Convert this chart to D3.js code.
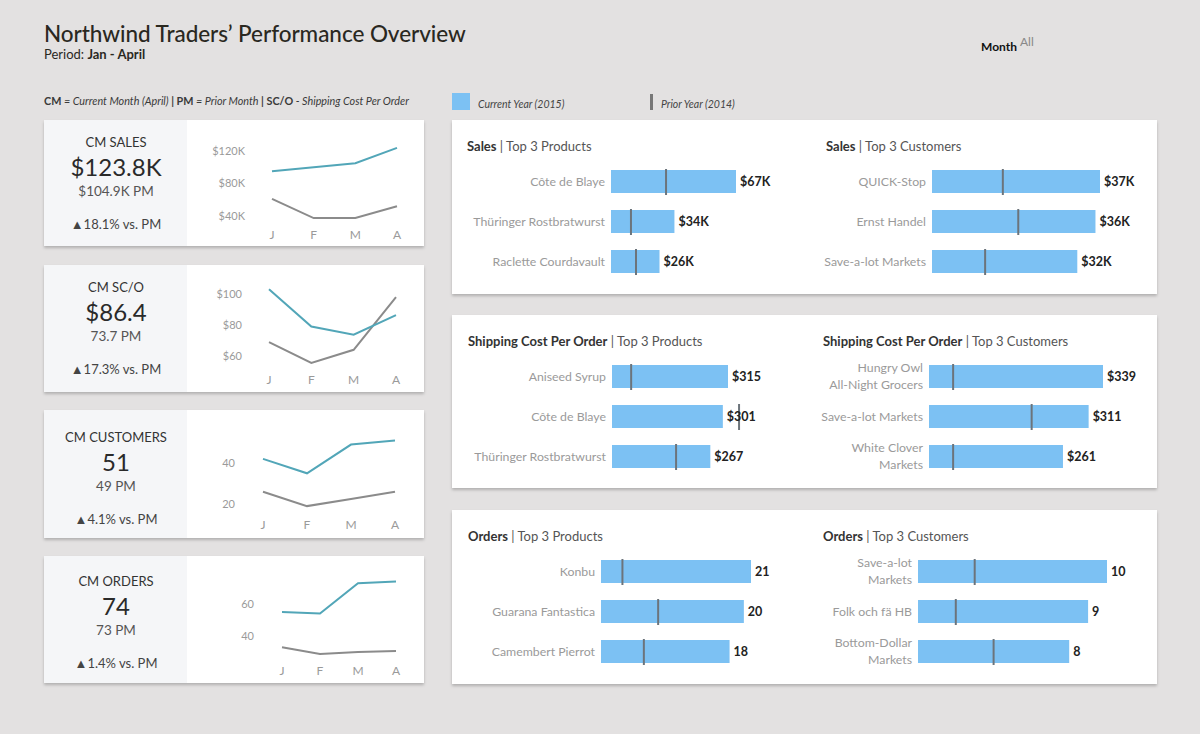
<!DOCTYPE html>
<html><head><meta charset="utf-8">
<script src="https://cdn.jsdelivr.net/npm/d3@7"></script>
<style>
body{margin:0;background:#e3e1e1;}
svg{display:block;font-family:Lato,"Noto Sans",sans-serif;}
</style></head><body>
<svg id="chart" width="1200" height="734"></svg>
<script>
// ---------- DATA ----------
const months = ["J", "F", "M", "A"];

const kpiTitles = ["CM SALES", "CM SC/O", "CM CUSTOMERS", "CM ORDERS"];
const kpiValues = ["$123.8K", "$86.4", "51", "74"];
const kpiPM = ["$104.9K PM", "73.7 PM", "49 PM", "73 PM"];
const kpiDelta = ["▲18.1% vs. PM", "▲17.3% vs. PM", "▲4.1% vs. PM", "▲1.4% vs. PM"];

const salesCur = [95, 100, 104.9, 123.8];
const salesPrior = [61, 37.5, 37.5, 52];
const salesTicks = [40, 80, 120];
const scoCur = [103, 79, 73.7, 86.4];
const scoPrior = [69, 55.5, 64, 98];
const scoTicks = [60, 80, 100];
const custCur = [42, 35, 49, 51];
const custPrior = [26, 19, 22.5, 26];
const custTicks = [20, 40];
const ordCur = [55, 54, 73, 74];
const ordPrior = [33, 28.7, 30, 30.6];
const ordTicks = [40, 60];

const salesProdNames = ["Côte de Blaye", "Thüringer Rostbratwurst", "Raclette Courdavault"];
const salesProdCur = [67, 34, 26];
const salesProdPrior = [29.5, 10.7, 13.4];
const salesCustNames = ["QUICK-Stop", "Ernst Handel", "Save-a-lot Markets"];
const salesCustCur = [37, 36, 32];
const salesCustPrior = [15.6, 19, 11.7];

const scoProdNames = ["Aniseed Syrup", "Côte de Blaye", "Thüringer Rostbratwurst"];
const scoProdCur = [315, 301, 267];
const scoProdPrior = [52, 345, 174];
const scoCustNames = ["Hungry Owl\nAll-Night Grocers", "Save-a-lot Markets", "White Clover\nMarkets"];
const scoCustCur = [339, 311, 261];
const scoCustPrior = [47, 200, 47];

const ordProdNames = ["Konbu", "Guarana Fantastica", "Camembert Pierrot"];
const ordProdCur = [21, 20, 18];
const ordProdPrior = [3, 8, 6];
const ordCustNames = ["Save-a-lot\nMarkets", "Folk och fä HB", "Bottom-Dollar\nMarkets"];
const ordCustCur = [10, 9, 8];
const ordCustPrior = [3, 2, 4];

// ---------- STYLE ----------
const C = {cur: "#52a6b8", prior: "#8b8b8b", bar: "#7cc1f3", ref: "#6c747b",
  light: "#9a9a9a", panel: "#ffffff", kpiLeft: "#f5f6f8"};

const svg = d3.select("#chart");
const defs = svg.append("defs");
const f = defs.append("filter").attr("id", "sh").attr("x", "-5%").attr("y", "-10%").attr("width", "110%").attr("height", "130%");
f.append("feDropShadow").attr("dx", 0).attr("dy", 2).attr("stdDeviation", 1.8).attr("flood-color", "#000").attr("flood-opacity", 0.22);

// ---------- HEADER ----------
svg.append("text").attr("x", 44).attr("y", 42).attr("font-size", 22.5).attr("fill", "#2a281f")
  .attr("font-weight", 500).attr("letter-spacing", -0.05).text("Northwind Traders’ Performance Overview");
const per = svg.append("text").attr("x", 44).attr("y", 59).attr("font-size", 13).attr("fill", "#2a281f");
per.append("tspan").text("Period: ");
per.append("tspan").attr("font-weight", 700).text("Jan - April");

svg.append("text").attr("x", 981).attr("y", 51).attr("font-size", 12).attr("font-weight", 700)
  .attr("fill", "#111").text("Month");
svg.append("text").attr("x", 1020).attr("y", 46).attr("font-size", 12).attr("fill", "#888").text("All");

const leg = svg.append("text").attr("x", 44).attr("y", 105).attr("font-size", 10.8).attr("fill", "#3a3a3a");
[["CM", 1], [" = Current Month (April) ", 0], ["| ", 1], [" PM", 1], [" = Prior Month  ", 0], [" |  ", 1], ["SC/O", 1], [" - Shipping Cost Per Order", 0]]
  .forEach(([t, b]) => leg.append("tspan").attr("font-weight", b ? 700 : 400).attr("font-style", b ? "normal" : "italic").text(t));

svg.append("rect").attr("x", 452).attr("y", 93).attr("width", 18).attr("height", 17).attr("fill", C.bar);
svg.append("text").attr("x", 478).attr("y", 108).attr("font-size", 10.5).attr("font-style", "italic").attr("fill", "#444").text("Current Year (2015)");
svg.append("rect").attr("x", 650).attr("y", 94).attr("width", 3).attr("height", 16).attr("fill", "#777");
svg.append("text").attr("x", 661).attr("y", 108).attr("font-size", 10.5).attr("font-style", "italic").attr("fill", "#444").text("Prior Year (2014)");

// ---------- KPI CARDS ----------
const kpiCur = [salesCur, scoCur, custCur, ordCur];
const kpiPrior = [salesPrior, scoPrior, custPrior, ordPrior];
const kpiTicks = [salesTicks, scoTicks, custTicks, ordTicks];
const kpiTickFmt = [d => "$" + d + "K", d => "$" + d, d => d, d => d];
const kpiLayout = [
  {top: 120, h: 126, x0: 272, x1: 397, yDom: [35.1, 133.5], tickX: 245, shift: 0},
  {top: 265, h: 127, x0: 269, x1: 396, yDom: [54.2, 105.8], tickX: 242, shift: 0},
  {top: 410, h: 128, x0: 263, x1: 395, yDom: [17.1, 56.1], tickX: 235, shift: 5},
  {top: 556, h: 127, x0: 282, x1: 396, yDom: [27.5, 77.5], tickX: 254, shift: 3}
];

kpiLayout.forEach((L, i) => {
  const g = svg.append("g");
  g.append("rect").attr("x", 44).attr("y", L.top).attr("width", 380).attr("height", L.h)
    .attr("fill", C.panel).attr("filter", "url(#sh)");
  g.append("rect").attr("x", 44).attr("y", L.top).attr("width", 143).attr("height", L.h).attr("fill", C.kpiLeft);
  const cx = 116, s = L.shift;
  g.append("text").attr("x", cx).attr("y", L.top + 22 + s).attr("dy", "0.35em").attr("text-anchor", "middle")
    .attr("font-size", 13).attr("fill", "#333").text(kpiTitles[i]);
  g.append("text").attr("x", cx).attr("y", L.top + 48 + s).attr("dy", "0.35em").attr("text-anchor", "middle")
    .attr("font-size", 24).attr("fill", "#2a2a2a").text(kpiValues[i]);
  g.append("text").attr("x", cx).attr("y", L.top + 71 + s).attr("dy", "0.35em").attr("text-anchor", "middle")
    .attr("font-size", 13.5).attr("fill", "#555").text(kpiPM[i]);
  g.append("text").attr("x", cx).attr("y", L.top + 104 + s).attr("dy", "0.35em").attr("text-anchor", "middle")
    .attr("font-size", 13).attr("fill", "#444").text(kpiDelta[i]);

  const x = d3.scalePoint().domain(months).range([L.x0, L.x1]);
  const y = d3.scaleLinear().domain(L.yDom).range([L.top + 100, L.top + 20]);
  g.selectAll(".yt").data(kpiTicks[i]).enter().append("text")
    .attr("x", L.tickX).attr("y", d => y(d)).attr("dy", "0.35em").attr("text-anchor", "end")
    .attr("font-size", 11).attr("fill", C.light).text(kpiTickFmt[i]);
  g.selectAll(".xt").data(months).enter().append("text")
    .attr("x", d => x(d)).attr("y", L.top + 115).attr("dy", "0.35em").attr("text-anchor", "middle")
    .attr("font-size", 12).attr("fill", C.light).text(d => d);
  const line = d3.line().x((d, j) => x(months[j])).y(d => y(d));
  g.append("path").datum(kpiPrior[i]).attr("d", line).attr("fill", "none").attr("stroke", C.prior).attr("stroke-width", 2);
  g.append("path").datum(kpiCur[i]).attr("d", line).attr("fill", "none").attr("stroke", C.cur).attr("stroke-width", 2);
});

// ---------- BULLET PANELS ----------
const panels = [{top: 120, h: 174}, {top: 315, h: 173}, {top: 510, h: 174}];
panels.forEach(p => {
  svg.append("rect").attr("x", 452).attr("y", p.top).attr("width", 705).attr("height", p.h)
    .attr("fill", C.panel).attr("filter", "url(#sh)");
});

const fmtK = d => "$" + d + "K", fmtD = d => "$" + d, fmtN = d => "" + d;
const subCharts = [
  {p: 0, tx: 467, tb: "Sales", tr: " | Top 3 Products", names: salesProdNames, cur: salesProdCur, prior: salesProdPrior, fmt: fmtK, bx: 611, len: 125},
  {p: 0, tx: 826, tb: "Sales", tr: " | Top 3 Customers", names: salesCustNames, cur: salesCustCur, prior: salesCustPrior, fmt: fmtK, bx: 932, len: 168},
  {p: 1, tx: 468, tb: "Shipping Cost Per Order", tr: " | Top 3 Products", names: scoProdNames, cur: scoProdCur, prior: scoProdPrior, fmt: fmtD, bx: 612, len: 116},
  {p: 1, tx: 823, tb: "Shipping Cost Per Order", tr: " | Top 3 Customers", names: scoCustNames, cur: scoCustCur, prior: scoCustPrior, fmt: fmtD, bx: 929, len: 174},
  {p: 2, tx: 468, tb: "Orders", tr: " | Top 3 Products", names: ordProdNames, cur: ordProdCur, prior: ordProdPrior, fmt: fmtN, bx: 601, len: 150},
  {p: 2, tx: 823, tb: "Orders", tr: " | Top 3 Customers", names: ordCustNames, cur: ordCustCur, prior: ordCustPrior, fmt: fmtN, bx: 918, len: 189}
];

subCharts.forEach(S => {
  const top = panels[S.p].top;
  const g = svg.append("g");
  const t = g.append("text").attr("x", S.tx).attr("y", top + 26).attr("dy", "0.35em").attr("font-size", 13).attr("fill", "#333");
  t.append("tspan").attr("font-weight", 700).text(S.tb);
  t.append("tspan").attr("fill", "#555").text(S.tr);

  const rows = S.names.map((n, i) => ({name: n, cur: S.cur[i], prior: S.prior[i]}));
  const y = d3.scaleBand().domain(S.names).range([top + 50, top + 153]).paddingInner(0.425).paddingOuter(0);
  const x = d3.scaleLinear().domain([0, d3.max(S.cur)]).range([S.bx, S.bx + S.len]);

  g.selectAll(".bar").data(rows).enter().append("rect")
    .attr("x", x(0)).attr("y", d => y(d.name)).attr("width", d => x(d.cur) - x(0)).attr("height", y.bandwidth())
    .attr("fill", C.bar);
  g.selectAll(".ref").data(rows).enter().append("line")
    .attr("x1", d => x(d.prior)).attr("x2", d => x(d.prior))
    .attr("y1", d => y(d.name) - 1).attr("y2", d => y(d.name) + y.bandwidth() + 2)
    .attr("stroke", C.ref).attr("stroke-width", 2);
  g.selectAll(".val").data(rows).enter().append("text")
    .attr("x", d => x(d.cur) + 4).attr("y", d => y(d.name) + y.bandwidth() / 2).attr("dy", "0.35em")
    .attr("font-size", 12.5).attr("font-weight", 700).attr("fill", "#222").text(d => S.fmt(d.cur));
  g.selectAll(".cat").data(rows).enter().append("text")
    .attr("x", S.bx - 6).attr("y", d => y(d.name) + y.bandwidth() / 2).attr("text-anchor", "end")
    .attr("font-size", 12.3).attr("fill", C.light)
    .each(function (d) {
      const lines = d.name.split("\n");
      const sel = d3.select(this);
      lines.forEach((ln, k) => {
        sel.append("tspan").attr("x", S.bx - 6)
          .attr("dy", k === 0 ? (0.35 - (lines.length - 1) * 0.7) + "em" : "1.4em").text(ln);
      });
    });
});
</script>
</body></html>
